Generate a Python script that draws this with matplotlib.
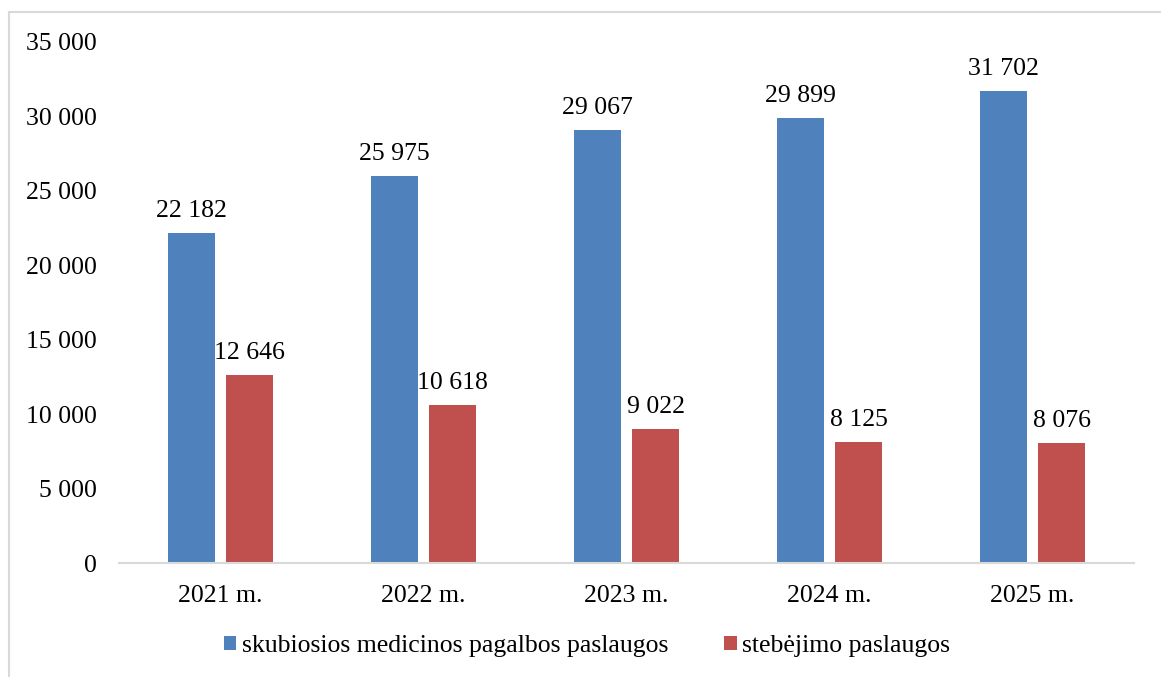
import matplotlib
matplotlib.use("Agg")
import matplotlib.pyplot as plt
import numpy as np
from matplotlib.lines import Line2D

years = ["2021 m.", "2022 m.", "2023 m.", "2024 m.", "2025 m."]
emergency = [22182, 25975, 29067, 29899, 31702]
monitoring = [12646, 10618, 9022, 8125, 8076]
series_names = ["skubiosios medicinos pagalbos paslaugos", "stebėjimo paslaugos"]
yticks = [0, 5000, 10000, 15000, 20000, 25000, 30000, 35000]

BLUE = "#4F81BD"
RED = "#C0504D"
GRID = "#D9D9D9"

plt.rcParams["font.family"] = ["Liberation Serif", "DejaVu Serif"]
FS = 18.5


def fmt(v):
    return f"{v:,}".replace(",", " ")


W, H = 1161, 677
fig = plt.figure(figsize=(W / 100, H / 100), dpi=100)
ax = fig.add_axes([119 / W, 1 - 563 / H, (1134 - 119) / W, (563 - 42) / H])

x = np.arange(len(years))
bw, off = 0.227, 0.143
b1 = ax.bar(x - off, emergency, bw, color=BLUE, label=series_names[0])
b2 = ax.bar(x + off, monitoring, bw, color=RED, label=series_names[1])
for bars, vals in ((b1, emergency), (b2, monitoring)):
    for r, v in zip(bars, vals):
        ax.annotate(fmt(v), (r.get_x() + r.get_width() / 2, v),
                    xytext=(0, 8), textcoords="offset points",
                    ha="center", va="bottom", fontsize=FS)

ax.set_xlim(-0.5, len(years) - 0.5)
ax.set_ylim(0, 35000)
ax.set_yticks(yticks)
ax.set_yticklabels([fmt(t) for t in yticks], fontsize=FS)
ax.set_xticks(x)
ax.set_xticklabels(years, fontsize=FS)
ax.tick_params(axis="y", length=0, pad=16)
ax.tick_params(axis="x", length=0, pad=16)
for s in ("top", "right", "left"):
    ax.spines[s].set_visible(False)
ax.spines["bottom"].set_color(GRID)
ax.spines["bottom"].set_linewidth(1.5)

ax.legend(loc="center", bbox_to_anchor=(587 / W, 1 - 646 / H), bbox_transform=fig.transFigure,
          ncol=2, frameon=False, fontsize=FS, handlelength=0.5, handleheight=0.5,
          handletextpad=0.2, columnspacing=2.2, borderpad=0)

# chart border (only left and top edges are visible in the crop)
fig.add_artist(Line2D([8.5 / W, 8.5 / W], [0, 1 - 11.5 / H], transform=fig.transFigure,
                      color=GRID, lw=1.5))
fig.add_artist(Line2D([8.5 / W, 1], [1 - 11.5 / H, 1 - 11.5 / H], transform=fig.transFigure,
                      color=GRID, lw=1.5))

fig.savefig("out.png", dpi=100)
